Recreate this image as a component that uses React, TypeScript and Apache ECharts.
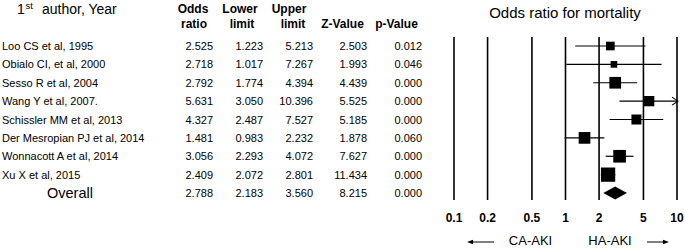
import React, { useEffect, useRef } from "react";
import * as echarts from "echarts";

const studies = [
  "Loo CS et al, 1995",
  "Obialo CI, et al, 2000",
  "Sesso R et al, 2004",
  "Wang Y et al, 2007.",
  "Schissler MM et al, 2013",
  "Der Mesropian PJ et al, 2014",
  "Wonnacott A et al, 2014",
  "Xu X et al, 2015",
];
const oddsRatio = [2.525, 2.718, 2.792, 5.631, 4.327, 1.481, 3.056, 2.409];
const lowerLimit = [1.223, 1.017, 1.774, 3.05, 2.487, 0.983, 2.293, 2.072];
const upperLimit = [5.213, 7.267, 4.394, 10.396, 7.527, 2.232, 4.072, 2.801];
const zValue = [2.503, 1.993, 4.439, 5.525, 5.185, 1.878, 7.627, 11.434];
const pValue = [0.012, 0.046, 0.0, 0.0, 0.0, 0.06, 0.0, 0.0];
// relative study weights (%), read from square areas
const studyWeight = [7.8, 4.6, 14.2, 11.0, 10.4, 14.2, 16.7, 21.2];

const overallLabel = "Overall";
const overallOR = 2.788;
const overallLower = 2.183;
const overallUpper = 3.56;
const overallZ = 8.215;
const overallP = 0.0;

const refTicks = [0.1, 0.2, 0.5, 1, 2, 5, 10];
const tickLabels = ["0.1", "0.2", "0.5", "1", "2", "5", "10"];
const AXIS_MIN = 0.1;
const AXIS_MAX = 10;

const FONT = "'Liberation Sans', Arial, Helvetica, sans-serif";

export default function App() {
  const ref = useRef<HTMLDivElement>(null);
  useEffect(() => {
    document.body.style.margin = "0";
    const chart = echarts.init(ref.current!, null, { renderer: "svg" });

    const nRows = studies.length + 1;
    const rowNames = [...studies, overallLabel];
    const rowOR = [...oddsRatio, overallOR];
    const rowLo = [...lowerLimit, overallLower];
    const rowHi = [...upperLimit, overallUpper];
    const rowZ = [...zValue, overallZ];
    const rowP = [...pValue, overallP];

    const studyData = oddsRatio.map((v, i) => [v, lowerLimit[i], upperLimit[i], i, studyWeight[i]]);
    const overallData = [[overallOR, overallLower, overallUpper, studies.length]];
    const tableData = rowNames.map((_, i) => [1, i]);
    const tickData = refTicks.map((t) => [t, 0]);

    const colRight = [213, 263, 313, 367, 422];

    const option: any = {
      animation: false,
      grid: { left: 454, top: 37, width: 223, height: 163, containLabel: false },
      xAxis: { type: "log", logBase: 10, min: AXIS_MIN, max: AXIS_MAX, show: false },
      yAxis: { type: "value", min: -0.49, max: 8.38, inverse: true, show: false },
      graphic: [
        { type: "text", style: { text: "1", x: 17, y: 9, font: `14px ${FONT}`, fill: "#000", verticalAlign: "middle", textVerticalAlign: "middle" } },
        { type: "text", style: { text: "st", x: 25.5, y: 5.5, font: `9.5px ${FONT}`, fill: "#000", verticalAlign: "middle", textVerticalAlign: "middle" } },
        { type: "text", style: { text: "author, Year", x: 42, y: 9, font: `14px ${FONT}`, fill: "#000", verticalAlign: "middle", textVerticalAlign: "middle" } },
        ...[
          ["Odds", 193, 8.5], ["ratio", 194, 23.5],
          ["Lower", 240, 8.5], ["limit", 242, 23.5],
          ["Upper", 289, 8.5], ["limit", 293, 23.5],
          ["Z-Value", 342.5, 23.5], ["p-Value", 396.5, 23.5],
        ].map(([t, x, y]) => ({
          type: "text",
          style: { text: t, x, y, font: `bold 12px ${FONT}`, fill: "#000", align: "center", textAlign: "center", verticalAlign: "middle", textVerticalAlign: "middle" },
        })),
        { type: "text", style: { text: "Odds ratio for mortality", x: 565, y: 12.5, font: `15px ${FONT}`, fill: "#000", align: "center", textAlign: "center", verticalAlign: "middle", textVerticalAlign: "middle" } },
        { type: "text", style: { text: "CA-AKI", x: 530.5, y: 240.5, font: `13px ${FONT}`, fill: "#000", align: "center", textAlign: "center", verticalAlign: "middle", textVerticalAlign: "middle" } },
        { type: "text", style: { text: "HA-AKI", x: 610, y: 240.5, font: `13px ${FONT}`, fill: "#000", align: "center", textAlign: "center", verticalAlign: "middle", textVerticalAlign: "middle" } },
        { type: "line", shape: { x1: 471, y1: 242, x2: 494, y2: 242 }, style: { stroke: "#000", lineWidth: 1 } },
        { type: "polygon", shape: { points: [[467, 242], [473, 239.8], [473, 244.2]] }, style: { fill: "#000" } },
        { type: "line", shape: { x1: 647, y1: 242, x2: 665, y2: 242 }, style: { stroke: "#000", lineWidth: 1 } },
        { type: "polygon", shape: { points: [[669, 242], [663, 239.8], [663, 244.2]] }, style: { fill: "#000" } },
      ],
      series: [
        {
          type: "custom",
          name: "reference lines",
          data: tickData,
          encode: { x: 0, y: 1 },
          renderItem: (params: any, api: any) => {
            const cs = params.coordSys;
            const x = api.coord([api.value(0), 0])[0];
            return {
              type: "group",
              children: [
                { type: "line", shape: { x1: x, y1: cs.y, x2: x, y2: cs.y + cs.height }, style: { stroke: "#000", lineWidth: 1.6 } },
                {
                  type: "text",
                  style: {
                    text: tickLabels[params.dataIndex], x, y: cs.y + cs.height + 17.5,
                    font: `bold 12px ${FONT}`, fill: "#000",
                    align: "center", textAlign: "center", verticalAlign: "middle", textVerticalAlign: "middle",
                  },
                },
              ],
            };
          },
        },
        {
          type: "custom",
          name: "studies",
          data: studyData,
          encode: { x: [0, 1, 2], y: 3 },
          renderItem: (params: any, api: any) => {
            const idx = api.value(3);
            const y = api.coord([1, idx])[1];
            const xo = api.coord([api.value(0), idx])[0];
            const xl = api.coord([api.value(1), idx])[0];
            const hi = api.value(2);
            const xh = api.coord([Math.min(hi, AXIS_MAX), idx])[0];
            const side = Math.sqrt(api.value(4)) * 3.1;
            const children: any[] = [
              { type: "line", shape: { x1: xl, y1: y, x2: xh, y2: y }, style: { stroke: "#000", lineWidth: 1.2 } },
              { type: "rect", shape: { x: xo - side / 2, y: y - side / 2, width: side, height: side }, style: { fill: "#000" } },
            ];
            if (hi > AXIS_MAX) {
              children.push({
                type: "polyline",
                shape: { points: [[xh - 5, y - 4], [xh + 1, y], [xh - 5, y + 4]] },
                style: { stroke: "#000", lineWidth: 1.1, fill: "none" },
              });
            }
            return { type: "group", children };
          },
        },
        {
          type: "custom",
          name: "overall",
          data: overallData,
          encode: { x: [0, 1, 2], y: 3 },
          renderItem: (params: any, api: any) => {
            const idx = api.value(3);
            const y = api.coord([1, idx])[1];
            const xo = api.coord([api.value(0), idx])[0];
            const xl = api.coord([api.value(1), idx])[0];
            const xh = api.coord([api.value(2), idx])[0];
            return {
              type: "polygon",
              shape: { points: [[xl, y], [xo, y - 6.5], [xh, y], [xo, y + 6.5]] },
              style: { fill: "#000" },
            };
          },
        },
        {
          type: "custom",
          name: "table",
          data: tableData,
          encode: { x: 0, y: 1 },
          renderItem: (params: any, api: any) => {
            const i = params.dataIndex;
            const y = api.coord([1, api.value(1)])[1];
            const isOverall = i === nRows - 1;
            const baseStyle = { fill: "#000", verticalAlign: "middle", textVerticalAlign: "middle" };
            const children: any[] = [
              isOverall
                ? { type: "text", style: { ...baseStyle, text: rowNames[i], x: 70, y, font: `14.5px ${FONT}`, align: "center", textAlign: "center" } }
                : { type: "text", style: { ...baseStyle, text: rowNames[i], x: 2, y, font: `11px ${FONT}`, align: "left", textAlign: "left" } },
            ];
            const vals = [rowOR[i], rowLo[i], rowHi[i], rowZ[i], rowP[i]];
            vals.forEach((v, c) => {
              children.push({
                type: "text",
                style: { ...baseStyle, text: v.toFixed(3), x: colRight[c], y, font: `11px ${FONT}`, align: "right", textAlign: "right" },
              });
            });
            return { type: "group", children };
          },
        },
      ],
    };

    chart.setOption(option);
    return () => chart.dispose();
  }, []);
  return <div ref={ref} style={{ width: 685, height: 248 }} />;
}
